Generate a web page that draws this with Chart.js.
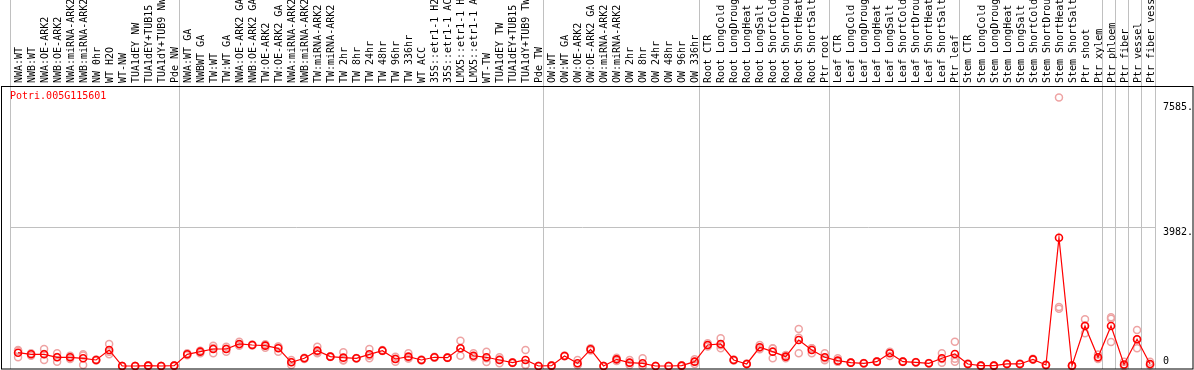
<!DOCTYPE html>
<html>
<head>
<meta charset="utf-8">
<script src="https://cdn.jsdelivr.net/npm/chart.js@4/dist/chart.umd.min.js"></script>
<style>
  html, body { margin: 0; padding: 0; background: #fff; }
  #wrap { position: relative; width: 1194px; height: 370px; }
  #gene { position: absolute; left: 10px; top: 90px; font: 10px 'DejaVu Sans Mono', monospace; line-height: 12px; color: #f00; }
</style>
</head>
<body>
<div id="wrap">
  <canvas id="chart" width="1194" height="370"></canvas>
  <div id="gene">Potri.005G115601</div>
</div>
<script>
const sampleLabels = [
   'NWA:WT', 'NWB:WT', 'NWA:OE-ARK2', 'NWB:OE-ARK2', 'NWA:miRNA-ARK2', 'NWB:miRNA-ARK2',
   'NW 0hr', 'WT H2O', 'WT-NW', 'TUA1dEY NW', 'TUA1dEY+TUB15 NW', 'TUA1dY+TUB9 NW', 'Pde NW',
   'NWA:WT GA', 'NWBWT GA', 'TW:WT', 'TW:WT GA', 'NWA:OE-ARK2 GA', 'NWB:OE-ARK2 GA',
   'TW:OE-ARK2', 'TW:OE-ARK2 GA', 'NWA:miRNA-ARK2', 'NWB:miRNA-ARK2', 'TW:miRNA-ARK2', 'TW:miRNA-ARK2 GA',
   'TW 2hr', 'TW 8hr', 'TW 24hr', 'TW 48hr', 'TW 96hr', 'TW 336hr', 'WT ACC',
   '35S::etr1-1 H2O', '35S::etr1-1 ACC', 'LMX5::etr1-1 H2O', 'LMX5::etr1-1 ACC',
   'WT-TW', 'TUA1dEY TW', 'TUA1dEY+TUB15 TW', 'TUA1dY+TUB9 TW', 'Pde TW',
   'OW:WT', 'OW:WT GA', 'OW:OE-ARK2', 'OW:OE-ARK2 GA', 'OW:miRNA-ARK2', 'OW:miRNA-ARK2 GA',
   'OW 2hr', 'OW 8hr', 'OW 24hr', 'OW 48hr', 'OW 96hr', 'OW 336hr',
   'Root CTR', 'Root LongCold', 'Root LongDrought', 'Root LongHeat', 'Root LongSalt',
   'Root ShortCold', 'Root ShortDrought', 'Root ShortHeat', 'Root ShortSalt', 'Ptr root',
   'Leaf CTR', 'Leaf LongCold', 'Leaf LongDrought', 'Leaf LongHeat', 'Leaf LongSalt',
   'Leaf ShortCold', 'Leaf ShortDrought', 'Leaf ShortHeat', 'Leaf ShortSalt', 'Ptr leaf',
   'Stem CTR', 'Stem LongCold', 'Stem LongDrought', 'Stem LongHeat', 'Stem LongSalt',
   'Stem ShortCold', 'Stem ShortDrought', 'Stem ShortHeat', 'Stem ShortSalt', 'Ptr shoot',
   'Ptr xylem', 'Ptr phloem', 'Ptr fiber', 'Ptr vessel', 'Ptr fiber vessel'
];

// first sample of each group (grey separator lines)
const groupStarts = [0, 13, 41, 53, 63, 73, 84, 85, 86, 87];

const meanValues = [
   384, 337, 337, 251, 251, 222, 173, 462, 0, 0, 10, 0, 10,
   337, 413, 490, 490, 635, 606, 587, 510, 106, 222, 442, 269, 241, 222, 337, 442, 202, 269, 173, 251, 241, 510, 295, 251, 173, 96, 173, 0,
   10, 289, 77, 481, 0, 192, 96, 77, 0, 0, 10, 125,
   606, 635, 173, 58, 539, 413, 269, 750, 462, 251,
   154, 96, 77, 125, 366, 125, 106, 77, 222, 346,
   58, 10, 10, 58, 58, 192, 29, 3700, 10, 1154, 250,
   1154, 42, 770, 58
];

const rep1 = [
   460, 366, 490, 366, 298, 337, 190, 635, 0, 0, 20, 0, 20,
   366, 433, 587, 558, 702, 620, 625, 558, 173, 240, 558, 280, 394, 230, 490, 460, 269, 366, 185, 265, 255, 731, 366, 413, 251, 110, 462, 0,
   20, 300, 173, 510, 0, 241, 173, 222, 0, 0, 20, 192,
   654, 798, 190, 70, 606, 510, 317, 1068, 510, 366,
   222, 105, 85, 135, 413, 135, 115, 85, 366, 701,
   70, 20, 20, 70, 70, 210, 40, 7750, 20, 1347, 330,
   1405, 125, 1039, 125
];

const rep2 = [
   250, 298, 173, 125, 202, 29, 155, 413, 0, 0, 0, 0, 0,
   310, 366, 366, 413, 587, 590, 529, 413, 29, 200, 366, 260, 173, 215, 298, 430, 125, 222, 160, 240, 230, 298, 250, 222, 77, 85, 29, 0,
   0, 280, 29, 450, 0, 144, 29, 0, 0, 0, 0, 58,
   560, 510, 160, 50, 481, 222, 222, 366, 366, 222,
   120, 90, 70, 115, 289, 115, 100, 70, 96, 125,
   50, 0, 0, 50, 50, 180, 20, 1700, 0, 943, 200,
   692, 0, 510, 30
];

const rep3 = [
   440, 347, 348, 262, 253, 300, 173, 338, 0, 0, 10, 0, 10,
   335, 440, 517, 500, 616, 608, 607, 559, 116, 226, 402, 267, 156, 221, 223, 436, 212, 219, 174, 248, 238, 501, 269, 118, 191, 93, 28, 0,
   10, 287, 29, 483, 0, 191, 86, 9, 0, 0, 10, 125,
   604, 597, 169, 54, 530, 507, 268, 816, 510, 165,
   120, 93, 76, 125, 396, 125, 103, 76, 204, 212,
   54, 10, 10, 54, 54, 186, 27, 1650, 10, 1172, 220,
   1365, 0, 761, 19
];

const yTickValues = [0, 3982, 7585];
const yTickLabels = ['0', '3982.', '7585.'];

const monoFont = { family: "'DejaVu Sans Mono', monospace", size: 10 };
const gridGrey = '#c0c0c0';

function toPoints(values) {
   return values.map((v, i) => ({ x: i, y: v }));
}

function noPadding(axis) {
   axis.paddingTop = 0;
   axis.paddingBottom = 0;
   axis.paddingLeft = 0;
   axis.paddingRight = 0;
}

const separatorTicks = groupStarts.map(i => i - 0.62).concat([sampleLabels.length - 1 + 0.38]);

const framePlugin = {
   id: 'frame',
   afterDraw(chart) {
      const ctx = chart.ctx;
      const area = chart.chartArea;
      ctx.save();
      ctx.strokeStyle = '#000';
      ctx.lineWidth = 1;
      ctx.strokeRect(1.5, area.top + 0.5, chart.width - 2.5, area.bottom - area.top - 0.5);
      ctx.restore();
   }
};

function repDataset(values) {
   return {
      data: toPoints(values),
      showLine: false,
      pointRadius: 3.5,
      pointBorderWidth: 1.5,
      pointBorderColor: '#eea3a3',
      pointBackgroundColor: 'rgba(0,0,0,0)',
      clip: false
   };
}

new Chart(document.getElementById('chart'), {
   type: 'line',
   data: {
      datasets: [
         {
            data: toPoints(meanValues),
            borderColor: '#ff0000',
            borderWidth: 1.2,
            pointRadius: 3.5,
            pointBorderWidth: 1.6,
            pointBorderColor: '#ff0000',
            pointBackgroundColor: 'rgba(0,0,0,0)',
            tension: 0,
            clip: false
         },
         repDataset(rep1),
         repDataset(rep2),
         repDataset(rep3)
      ]
   },
   options: {
      responsive: false,
      animation: false,
      devicePixelRatio: 1,
      layout: { autoPadding: false, padding: { left: 10, right: 1, top: 0, bottom: 1 } },
      plugins: { legend: { display: false }, tooltip: { enabled: false } },
      scales: {
         x: {
            type: 'linear',
            position: 'top',
            weight: 0,
            min: -0.62,
            max: sampleLabels.length - 1 + 0.38,
            afterBuildTicks: axis => { axis.ticks = separatorTicks.map(v => ({ value: v })); },
            afterFit: axis => { axis.height = 0; noPadding(axis); },
            ticks: { display: false },
            grid: { color: gridGrey, lineWidth: 1, drawTicks: true, tickLength: 86 },
            border: { display: false }
         },
         xl: {
            type: 'linear',
            position: 'top',
            weight: 1,
            min: -0.62,
            max: sampleLabels.length - 1 + 0.38,
            afterBuildTicks: axis => { axis.ticks = sampleLabels.map((_, i) => ({ value: i })); },
            afterFit: axis => { axis.height = 86; noPadding(axis); },
            ticks: {
               autoSkip: false,
               minRotation: 90,
               maxRotation: 90,
               padding: 3,
               labelOffset: 13,
               color: '#000',
               font: monoFont,
               callback: v => sampleLabels[v]
            },
            grid: { display: false, drawTicks: false },
            border: { display: false }
         },
         y: {
            type: 'linear',
            position: 'right',
            min: -87,
            max: 8079,
            afterBuildTicks: axis => { axis.ticks = yTickValues.map(v => ({ value: v })); },
            afterFit: axis => { axis.width = 38; noPadding(axis); },
            ticks: {
               padding: 8,
               crossAlign: 'near',
               color: '#000',
               font: { family: monoFont.family, size: 10, lineHeight: 0.9 },
               callback: v => {
                  const label = yTickLabels[yTickValues.indexOf(v)];
                  return v === 0 ? [label, ''] : ['', label];
               }
            },
            grid: {
               drawTicks: false,
               color: ctx => (ctx.tick && ctx.tick.value === 3982 ? gridGrey : 'rgba(0,0,0,0)')
            },
            border: { display: false }
         }
      }
   },
   plugins: [framePlugin]
});
</script>
</body>
</html>
